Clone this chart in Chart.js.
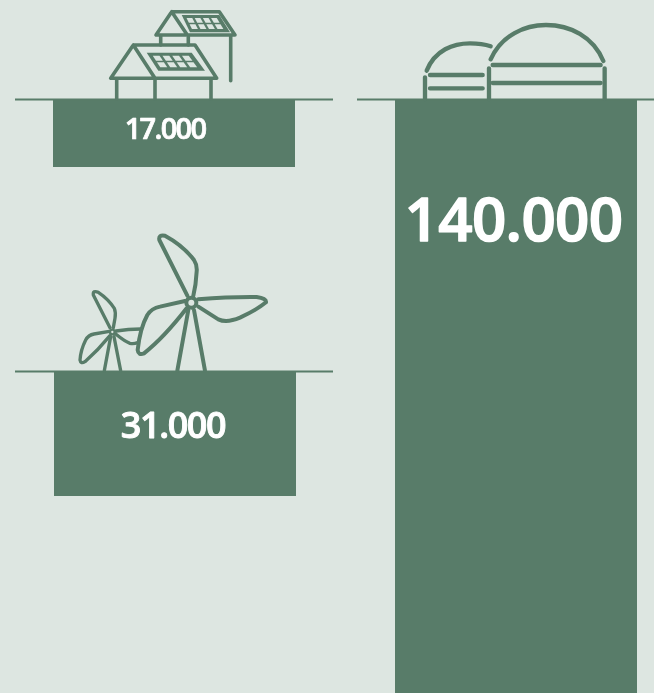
<!DOCTYPE html>
<html><head><meta charset="utf-8">
<style>
html,body{margin:0;padding:0;width:654px;height:693px;overflow:hidden;background:#dde6e1}
.p{position:absolute}
canvas{display:block}
svg{position:absolute;left:0;top:0}
</style>
<script src="https://cdn.jsdelivr.net/npm/chart.js@4"></script>
</head><body>
<div class="p" style="left:53px;top:100px;width:242px;height:67px"><canvas id="c0"></canvas></div>
<div class="p" style="left:54px;top:372px;width:242px;height:124px"><canvas id="c1"></canvas></div>
<div class="p" style="left:395px;top:100px;width:242px;height:593px"><canvas id="c2"></canvas></div>
<svg id="ic" width="654" height="693" fill="none" stroke="#587c69" stroke-linecap="round" stroke-linejoin="round">
 <g stroke-width="2" stroke-linecap="butt">
  <path d="M15 100H333M15 372H333M357 100H654" transform="translate(0 -.5)"/>
 </g>
 <g stroke-width="3.6">
  <path d="M133.3 45L110.7 78.3H216.7L195 45ZM133.3 45L155 78.3M116.7 78.3V99M155 78.3V99M211 78.3V99"/>
  <path d="M171.7 11.7L156 35H235L219.3 11.7ZM171.7 11.7L187.3 35M160.7 35V45M188.3 35V45M230.7 35V80.7"/>
 </g>
 <g id="panels"></g>
 <g transform="translate(70 225) scale(.3333)" stroke-width="12">
  <circle cx="364" cy="233" r="15"/>
  <path d="M352 212L268 45Q265 28 285 32Q340 62 372 105Q382 120 380 140Q378 180 370 212"/>
  <path d="M385 223Q480 215 560 216Q590 220 588 232Q560 255 510 278Q470 295 445 283L385 245"/>
  <path d="M345 228L270 245Q245 250 232 270Q210 310 203 375Q205 392 222 385Q280 340 350 250"/>
  <path d="M355 255L322 437M372 255L405 437"/>
  <circle cx="127" cy="321" r="7" stroke-width="7"/>
  <path stroke-width="10" d="M120 308L70 210Q68 195 85 202Q115 222 133 250Q138 262 135 280L130 308"/>
  <path stroke-width="10" d="M138 318Q175 312 212 312M138 328Q165 350 180 355Q190 358 203 353"/>
  <path stroke-width="10" d="M118 319L72 327Q55 330 47 345Q32 375 30 405Q32 418 45 410Q85 375 120 332"/>
  <path stroke-width="10" d="M122 335L103 437M132 335L152 437"/>
 </g>
 <g transform="translate(410 15) scale(.3333)" stroke-width="13">
  <path d="M242 133C275 60 345 30 408 30C480 30 550 65 580 138"/>
  <path d="M50 167C75 105 130 85 180 85C205 85 225 88 242 94"/>
  <path d="M45 187V252M237 160V252M584 160V252"/>
  <path d="M60 180H218M60 220H218M248 150H572M248 204H572"/>
 </g>
</svg>
<script>
const categories = ["Solar", "Wind", "Biogas"];
const values = [17000, 31000, 140000];
const labelSizes = [29, 36, 60];
const labelOffsets = [30.5, 56, 123.5];
const labelShift = [-9, -2, -2.5];
const labelSpacing = [-1.7, -1.4, -0.6];
const barColor = "#587c69";
const bgColor = "#dde6e1";

const valueLabel = {
  id: "valueLabel",
  afterDatasetsDraw(chart, args, opts) {
    const {ctx, chartArea} = chart;
    const i = opts.i;
    const text = values[i].toLocaleString("de-DE");
    ctx.save();
    ctx.font = "600 " + labelSizes[i] + "px 'Open Sans'";
    ctx.letterSpacing = labelSpacing[i] + "px";
    ctx.textAlign = "center";
    ctx.textBaseline = "middle";
    ctx.fillStyle = "#fff";
    ctx.strokeStyle = "#fff";
    ctx.lineJoin = "round";
    ctx.lineWidth = labelSizes[i] / 40;
    const x = (chartArea.left + chartArea.right) / 2 + labelShift[i];
    const y = chartArea.top + labelOffsets[i];
    ctx.fillText(text, x, y);
    ctx.strokeText(text, x, y);
    ctx.restore();
  }
};

values.forEach((v, i) => {
  new Chart(document.getElementById("c" + i), {
    type: "bar",
    data: { labels: [categories[i]], datasets: [{ data: [v], backgroundColor: barColor, borderWidth: 0, barPercentage: 1, categoryPercentage: 1 }] },
    options: {
      responsive: true, maintainAspectRatio: false, animation: false,
      layout: { padding: 0 },
      plugins: { legend: { display: false }, tooltip: { enabled: false }, valueLabel: { i } },
      scales: {
        x: { display: false },
        y: { display: false, reverse: true, min: 0, max: v }
      }
    },
    plugins: [valueLabel]
  });
});

// solar panels on the roofs: corners tl,tr,br,bl
function panel(c) {
  const g = document.getElementById("panels");
  const lerp = (a, b, t) => [a[0] + (b[0] - a[0]) * t, a[1] + (b[1] - a[1]) * t];
  const at = (u, v) => lerp(lerp(c[0], c[1], u), lerp(c[3], c[2], u), v);
  const poly = (pts, fill) => {
    const p = document.createElementNS("http://www.w3.org/2000/svg", "polygon");
    p.setAttribute("points", pts.map(q => q.join(",")).join(" "));
    p.setAttribute("fill", fill); p.setAttribute("stroke", "none");
    g.appendChild(p);
  };
  poly(c, barColor);
  for (let r = 0; r < 2; r++) for (let k = 0; k < 4; k++) {
    const u0 = .09 + k * .215, u1 = u0 + .15, v0 = .17 + r * .36, v1 = v0 + .28;
    poly([at(u0, v0), at(u1, v0), at(u1, v1), at(u0, v1)], bgColor);
  }
}
panel([[146.7,52.7],[191.7,52.7],[205,70.7],[158.3,70.7]]);
panel([[181.7,15],[219.3,15],[230,32.3],[190,32.3]]);
</script>
</body></html>
